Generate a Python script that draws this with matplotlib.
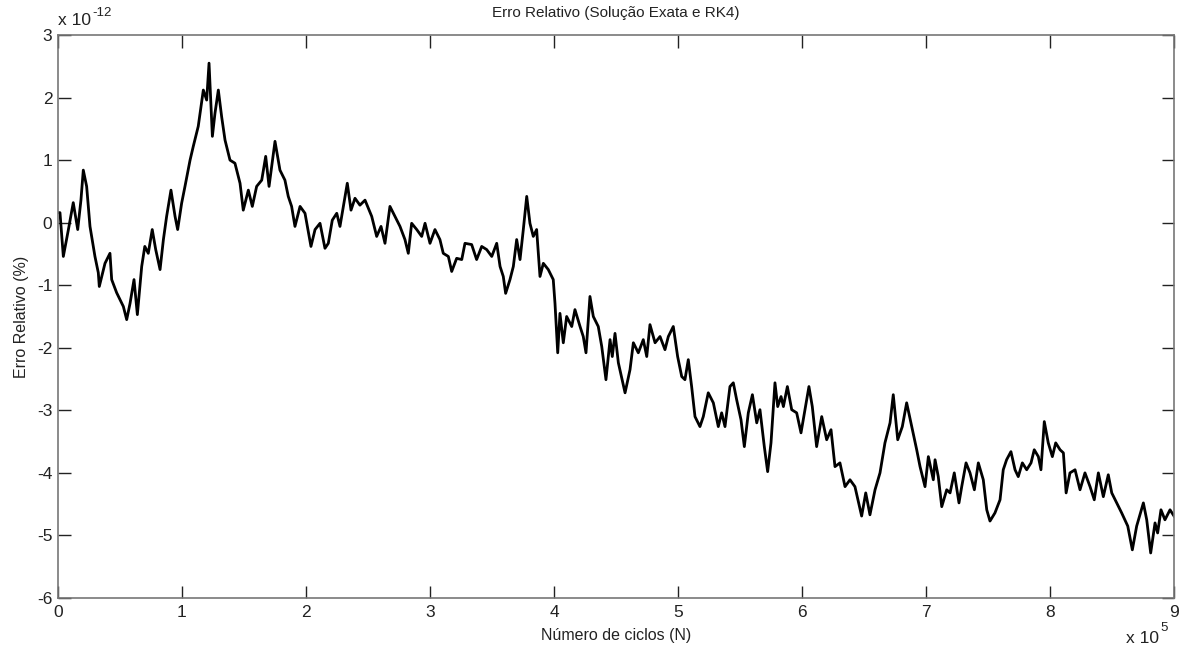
import matplotlib
matplotlib.use('Agg')
import matplotlib.pyplot as plt
from matplotlib.transforms import offset_copy

plt.rcParams['font.family'] = ['Liberation Sans', 'DejaVu Sans']

# N in units of 1e5 cycles, error in units of 1e-12 %
ciclos = [0.00, 0.016, 0.043, 0.083, 0.123, 0.159, 0.185, 0.204, 0.231, 0.258,
          0.298, 0.325, 0.333, 0.379, 0.419, 0.433, 0.473, 0.500, 0.527, 0.554,
          0.581, 0.613, 0.640, 0.675, 0.700, 0.728, 0.760, 0.788, 0.823, 0.850,
          0.876, 0.911, 0.944, 0.965, 0.997, 1.024, 1.065, 1.091, 1.131, 1.172,
          1.199, 1.218, 1.245, 1.266, 1.293, 1.320, 1.347, 1.387, 1.427, 1.468,
          1.494, 1.535, 1.567, 1.602, 1.643, 1.675, 1.702, 1.750,
          1.790, 1.830, 1.857, 1.884, 1.911, 1.952, 1.992, 2.040, 2.073, 2.113,
          2.153, 2.180, 2.212, 2.248, 2.274, 2.301, 2.333, 2.363, 2.395, 2.435,
          2.476, 2.530, 2.570, 2.605, 2.637, 2.677, 2.718, 2.758, 2.798, 2.825,
          2.852, 2.893, 2.933, 2.960, 3.000, 3.040, 3.080, 3.107, 3.148, 3.175,
          3.215, 3.256, 3.282, 3.336, 3.376, 3.417, 3.457, 3.498,
          3.538, 3.565, 3.591, 3.610, 3.645, 3.672, 3.699, 3.726, 3.752, 3.780,
          3.806, 3.833, 3.860, 3.887, 3.914, 3.954, 3.994, 4.008, 4.030, 4.048,
          4.075, 4.102, 4.143, 4.169, 4.210, 4.236, 4.258, 4.290, 4.317, 4.357,
          4.385, 4.419, 4.452, 4.470, 4.492, 4.519, 4.573, 4.613, 4.640, 4.680,
          4.720, 4.748, 4.774, 4.815, 4.855, 4.895, 4.922, 4.962, 4.997, 5.030,
          5.056, 5.083, 5.110, 5.137, 5.177, 5.204, 5.244, 5.285,
          5.325, 5.352, 5.379, 5.419, 5.446, 5.473, 5.508, 5.535, 5.567, 5.600,
          5.635, 5.661, 5.696, 5.723, 5.750, 5.782, 5.804, 5.831, 5.850, 5.882,
          5.917, 5.957, 5.992, 6.024, 6.056, 6.083, 6.118, 6.159, 6.199, 6.234,
          6.266, 6.306, 6.347, 6.387, 6.427, 6.481, 6.514, 6.548, 6.589, 6.629,
          6.669, 6.710, 6.736, 6.772, 6.809, 6.844, 6.885, 6.925, 6.952, 6.992,
          7.019, 7.059,
          7.073, 7.099, 7.127, 7.167, 7.194, 7.228, 7.266, 7.288, 7.323, 7.355,
          7.390, 7.422, 7.462, 7.490, 7.516, 7.556, 7.597, 7.623, 7.650, 7.685,
          7.718, 7.744, 7.777, 7.812, 7.847, 7.873, 7.906, 7.927, 7.954, 7.986,
          8.019, 8.046, 8.081, 8.108, 8.130, 8.161, 8.202, 8.242, 8.282, 8.323,
          8.357, 8.390, 8.430, 8.470, 8.498, 8.538, 8.578, 8.627, 8.664, 8.699,
          8.753, 8.780, 8.812, 8.847, 8.868, 8.895, 8.927, 8.968, 9.000]

erro = [0.16, 0.16, -0.54, -0.12, 0.32, -0.11, 0.36, 0.84, 0.58, -0.06,
        -0.54, -0.80, -1.02, -0.65, -0.49, -0.91, -1.12, -1.23, -1.34, -1.55,
        -1.29, -0.91, -1.47, -0.70, -0.38, -0.49, -0.11, -0.43, -0.75, -0.27,
        0.10, 0.52, 0.10, -0.11, 0.31, 0.58, 1.00, 1.22, 1.54, 2.12,
        1.96, 2.55, 1.38, 1.75, 2.12, 1.69, 1.32, 1.00, 0.95, 0.63,
        0.20, 0.52, 0.26, 0.58, 0.68, 1.06, 0.58, 1.30,
        0.84, 0.68, 0.42, 0.26, -0.06, 0.26, 0.15, -0.38, -0.11, -0.01,
        -0.41, -0.33, 0.04, 0.15, -0.06, 0.26, 0.63, 0.20, 0.39, 0.28,
        0.36, 0.10, -0.22, -0.06, -0.33, 0.26, 0.10, -0.06, -0.27, -0.49,
        -0.01, -0.11, -0.22, -0.01, -0.33, -0.11, -0.27, -0.49, -0.54, -0.78,
        -0.57, -0.59, -0.33, -0.35, -0.59, -0.38, -0.43, -0.54,
        -0.33, -0.70, -0.86, -1.13, -0.91, -0.70, -0.27, -0.59, -0.12, 0.42,
        -0.01, -0.22, -0.11, -0.86, -0.65, -0.75, -0.91, -1.29, -2.08, -1.45,
        -1.92, -1.50, -1.66, -1.39, -1.66, -1.82, -2.08, -1.18, -1.50, -1.66,
        -1.98, -2.51, -1.87, -2.14, -1.77, -2.24, -2.72, -2.35, -1.92, -2.08,
        -1.87, -2.14, -1.63, -1.92, -1.82, -2.03, -1.82, -1.66, -2.14, -2.46,
        -2.51, -2.19, -2.62, -3.10, -3.26, -3.10, -2.72, -2.88,
        -3.26, -3.04, -3.26, -2.62, -2.56, -2.83, -3.15, -3.58, -3.04, -2.75,
        -3.20, -2.99, -3.58, -3.98, -3.52, -2.56, -2.94, -2.78, -2.94, -2.62,
        -2.99, -3.04, -3.36, -2.99, -2.62, -2.94, -3.58, -3.10, -3.47, -3.31,
        -3.90, -3.84, -4.22, -4.11, -4.22, -4.69, -4.32, -4.67, -4.27, -4.00,
        -3.52, -3.20, -2.75, -3.47, -3.26, -2.88, -3.26, -3.63, -3.90, -4.22,
        -3.74, -4.11,
        -3.79, -4.06, -4.54, -4.27, -4.32, -4.00, -4.48, -4.22, -3.84, -4.00,
        -4.27, -3.84, -4.11, -4.59, -4.77, -4.64, -4.43, -3.95, -3.79, -3.66,
        -3.95, -4.06, -3.84, -3.95, -3.84, -3.63, -3.74, -3.95, -3.18, -3.52,
        -3.74, -3.52, -3.63, -3.68, -4.32, -4.00, -3.95, -4.27, -4.00, -4.22,
        -4.43, -4.00, -4.38, -4.03, -4.32, -4.48, -4.64, -4.85, -5.23, -4.85,
        -4.48, -4.75, -5.28, -4.80, -4.96, -4.59, -4.75, -4.59, -4.69]

xticks = list(range(0, 10))
yticks = list(range(-6, 4))

fig = plt.figure(figsize=(11.82, 6.49), dpi=100)
ax = fig.add_axes([58 / 1182, 1 - 598 / 649, (1174 - 58) / 1182, (598 - 35) / 649])

ax.plot(ciclos, erro, color='black', linewidth=2.0)

ax.set_xlim(0, 9)
ax.set_ylim(-6, 3)
ax.set_xticks(xticks)
ax.set_yticks(yticks)
ax.set_xticklabels([str(t) for t in xticks])
ax.set_yticklabels([str(t) for t in yticks])
ax.tick_params(direction='in', length=9, width=1, top=True, right=True,
               labelsize=12.5, colors='#222222', pad=4)
ax.tick_params(axis='x', pad=5)
for s in ax.spines.values():
    s.set_color('#777777')
    s.set_linewidth(1.2)

txtc = '#222222'
ax.set_title('Erro Relativo (Solução Exata e RK4)', fontsize=11, pad=13, color=txtc)
ax.set_xlabel('Número de ciclos (N)', fontsize=11.5, labelpad=6, color=txtc)
ax.set_ylabel('Erro Relativo (%)', fontsize=11.5, labelpad=6, color=txtc)

# MATLAB style exponent labels (plain hyphen in the superscript)
ax.text(0.0, 1.012, 'x 10', transform=ax.transAxes, fontsize=12.5,
        ha='left', va='bottom', color=txtc)
ax.text(0.0, 1.012, '-12', fontsize=9.5, ha='left', va='bottom', color=txtc,
        transform=offset_copy(ax.transAxes, fig=fig, x=25, y=7, units='points'))
ax.text(0.987, -0.058, 'x 10', transform=ax.transAxes, fontsize=12.5,
        ha='right', va='top', color=txtc)
ax.text(0.987, -0.058, '5', fontsize=9.5, ha='left', va='top', color=txtc,
        transform=offset_copy(ax.transAxes, fig=fig, x=0.5, y=6, units='points'))

fig.savefig('out.png', dpi=100)
